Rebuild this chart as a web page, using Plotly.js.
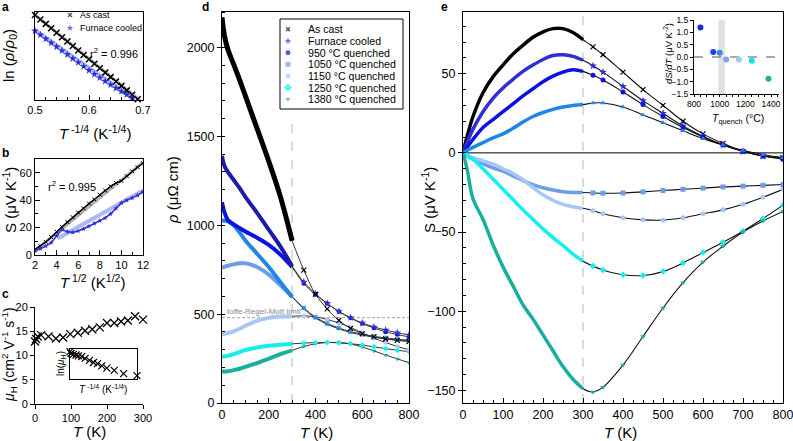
<!DOCTYPE html>
<html><head><meta charset="utf-8">
<script src="https://cdn.plot.ly/plotly-3.0.1.min.js"></script>
<style>html,body{margin:0;padding:0;background:#fff}#chart{width:793px;height:441px}</style>
</head><body><div id="chart"></div>
<script>
// ================= DATA =================
// Panel a: ln(rho/rho0) vs T^-1/4
const aX = [0.50,0.51,0.52,0.53,0.54,0.55,0.56,0.57,0.58,0.59,0.60,0.61,0.62,0.63,0.64,0.65,0.66,0.67,0.68,0.69];
const aAsCast = [0.963,0.909,0.854,0.800,0.745,0.691,0.637,0.582,0.528,0.473,0.419,0.365,0.310,0.256,0.201,0.147,0.093,0.038,-0.016,-0.070];
const aXFurnace = [0.50,0.51,0.52,0.53,0.54,0.55,0.56,0.57,0.58,0.59,0.60,0.61,0.62,0.63,0.64,0.65,0.66,0.67,0.68];
const aFurnace = [0.770,0.720,0.670,0.622,0.573,0.525,0.477,0.428,0.380,0.331,0.283,0.236,0.193,0.150,0.108,0.066,0.025,-0.015,-0.055];
const aFitAsCastX = [0.50,0.695], aFitAsCastY = [0.963,-0.085];
const aFitFurnX = [0.50,0.685], aFitFurnY = [0.775,-0.075];
const aR2 = 'r<sup>2</sup> = 0.996';
const aLegendLabels = ['As cast','Furnace cooled'];

// Panel b: S vs T^1/2
const bX = [2,2.5,3,3.5,4,4.5,5,5.5,6,6.5,7,7.5,8,8.5,9,9.5,10,10.5,11,11.5,12];
const bAsCast = [4,6.5,9.5,13,17,20.5,24,27.5,31,34,37.5,40.5,44,47,50,52.5,54,57.5,61,64,67];
const bFurnace = [3,4.5,6.5,9,14,18.5,17,16.5,17.5,19,21,23,25,27,30,34,38,40,41.5,43.5,46];
const bFitAsCastX = [2,12], bFitAsCastY = [3,67.5];
const bFitFurnX = [4.1,12], bFitFurnY = [12,47];
const bR2 = 'r<sup>2</sup> = 0.995';

// Panel c: Hall mobility vs T
const cT = [0,3,7.5,17,37.5,58,78,98,119,139,159,180,200,220,239,258,278,300];
const cMu = [12.9,13.4,13.9,14.2,13.9,13.5,13.7,14.4,14.7,15.1,15.4,15.8,16.7,16.7,17.0,17.2,18.1,17.4];
// inset c: ln(muH) vs T^-1/4 (relative units)
const cInX = [0.0,0.015,0.05,0.09,0.125,0.175,0.225,0.29,0.35,0.41,0.475,0.55,0.66,0.80,1.0];
const cInY = [0.91,0.85,0.82,0.80,0.77,0.75,0.69,0.62,0.55,0.51,0.44,0.36,0.29,0.18,0.11];

// Panel d: resistivity vs T
const dTLow = [0,10,25,50,75,100,150,200,250,300];
const dTHigh = [300,350,400,450,500,550,600,650,700,750,800];
const dAsCastLow = [2170,2070,1990,1905,1820,1728,1545,1360,1160,912];
const dAsCastHigh = [912,748,612,530,465,420,390,372,360,352,346];
const dFurnLow = [1390,1335,1300,1255,1210,1160,1070,975,880,770];
const dFurnHigh = [770,680,615,560,515,480,450,428,410,395,383];
const d950Low = [1130,1075,1030,1005,985,965,930,890,835,765];
const d950High = [765,672,610,560,515,478,447,422,400,385,372];
const d1000Low = [1027,1026,1022,1000,960,915,840,765,680,597];
const d1000High = [597,530,478,443,417,397,382,370,361,354,348];
const d1050Low = [762,766,772,780,786,786,765,722,662,598];
const d1050High = [598,535,483,448,422,402,387,375,366,359,353];
const d1150Low = [388,390,394,403,418,435,462,479,486,488];
const d1150High = [488,490,485,470,450,425,395,365,340,318,300];
const d1250Low = [261,262,265,275,287,298,312,322,328,333];
const d1250High = [333,337,340,341,339,334,326,316,306,297,289];
const d1380Low = [177,177,179,185,193,203,225,250,275,296];
const d1380High = [296,318,333,340,340,332,315,293,270,248,227];
const ioffeLimit = 480;
const ioffeLabel = 'Ioffe-Regel-Mott limit';
const dLegendLabels = ['As cast','Furnace cooled','950 °C quenched','1050 °C quenched','1150 °C quenched','1250 °C quenched','1380 °C quenched'];

// Panel e: Seebeck vs T
const eT = [0,10,25,50,75,100,125,150,175,200,225,250,275,300,325,350,400,450,500,550,600,650,700,750,800];
const eAsCast = [0,10,23,38,48,55.5,62.5,68,73,76.5,78.5,78.5,76,71.5,67,62,51,40,30,20,12,6,1,-2,-3];
const eFurn = [0,6.5,15,26,34.5,41,46.5,51.5,55.5,59,61.5,62,61,58.5,55,51,42,33,25,17,10.5,5,1,-2,-3.5];
const e950 = [0,3.5,8.5,16,21,26,31,36,40.5,45,48.5,51,52.5,51.5,49,46,38.5,30.5,23,16,10,5,1,-2,-4];
const e1000 = [0,1.5,3.5,6.5,9.5,12,15.5,19.5,23,25.5,27.5,29,30,30.5,31.5,31.5,29,24,19,14,9,5,1.5,-1,-3];
const e1050 = [0,-2,-4,-7,-9.5,-11.5,-14.5,-17.5,-20,-22,-23.5,-24.5,-25,-25,-25.3,-25.5,-25.3,-24.6,-23.8,-23,-22.3,-21.5,-21,-20.5,-20];
const e1150 = [0,-1.5,-3,-5,-7,-10,-13,-17,-22,-26.5,-30,-32.5,-34,-35,-36.5,-38.5,-41,-42.3,-42.5,-41,-38.5,-36,-32.5,-28,-23];
const e1250 = [0,-1.5,-4,-10,-16.5,-23,-29.5,-36,-42,-48,-53.5,-58.5,-64,-68.5,-71.5,-74,-77,-77.5,-75,-69.5,-63,-56.5,-49.5,-41.5,-33];
const e1380 = [0,-10,-29,-42,-58,-72,-84,-96,-105,-115,-125,-135,-143,-149,-151,-148,-134,-116,-98,-82,-69,-59,-50,-43,-37];
// inset e: dS/dT vs quench temperature
const eInTq = [850,950,1000,1050,1150,1250,1380];
const eInDSdT = [1.2,0.2,0.17,-0.1,-0.1,-0.15,-0.88];
const eInBand = [990,1040];

// ================= STYLE / LAYOUT =================
const F = 'Arial, "Liberation Sans", Helvetica, sans-serif';
const W = 793, H = 441;
const DX = (a,b) => [a/W, b/W];
const DY = (t,b) => [1-b/H, 1-t/H];
const C = {asCast:'#000000', furn:'#1c1caa', furnMk:'#2e2ed8', q950:'#0c12e2', q1000:'#1f86e6', q1050:'#6c9ee8', q1150:'#a9c6f4', q1250:'#14eeee', q1380:'#1aae9c'};

function axis(o){
  return Object.assign({showline:true, linecolor:'#000', linewidth:1, mirror:true, ticks:'inside', ticklen:5, tickwidth:1, tickcolor:'#000',
    showgrid:false, zeroline:false, ticklabeloverflow:'allow', tickfont:{family:F, size:12.5, color:'#000'}, fixedrange:true}, o);
}
function minor(dt, o){ return Object.assign({dtick:dt, ticks:'inside', ticklen:3, tickwidth:1, tickcolor:'#000', showgrid:false}, o||{}); }
const small = {family:F, size:11, color:'#000'};

const traces = [];
// ---- panel a ----
traces.push({x:aFitAsCastX, y:aFitAsCastY, xaxis:'x', yaxis:'y', mode:'lines', line:{color:'#b0b0b0', width:3}});
traces.push({x:aFitFurnX, y:aFitFurnY, xaxis:'x', yaxis:'y', mode:'lines', line:{color:'#a9b9f4', width:4}});
traces.push({x:aX, y:aAsCast, xaxis:'x', yaxis:'y', mode:'markers', cliponaxis:false, marker:{symbol:'x-thin', size:6, line:{width:1.5, color:'#000'}}});
traces.push({x:aXFurnace, y:aFurnace, xaxis:'x', yaxis:'y', mode:'markers', cliponaxis:false, marker:{symbol:'star', size:6, color:C.furnMk}});
// legend a (axes 9)
traces.push({x:[70,70], y:[15,28], xaxis:'x9', yaxis:'y9', mode:'markers', cliponaxis:false,
  marker:{symbol:['x','star'], size:[5,7], color:['#000', C.furnMk]}});
// ---- panel b ----
traces.push({x:bFitAsCastX, y:bFitAsCastY, xaxis:'x2', yaxis:'y2', mode:'lines', line:{color:'#b0b0b0', width:3}});
traces.push({x:bFitFurnX, y:bFitFurnY, xaxis:'x2', yaxis:'y2', mode:'lines', line:{color:'#a9b9f4', width:4}});
traces.push({x:bX, y:bAsCast, xaxis:'x2', yaxis:'y2', mode:'lines+markers', line:{color:'#000', width:1.5}, marker:{symbol:'x-thin', size:4, line:{width:1, color:'#000'}}});
traces.push({x:bX, y:bFurnace, xaxis:'x2', yaxis:'y2', mode:'lines+markers', line:{color:C.furnMk, width:1.5}, marker:{symbol:'star', size:4, color:C.furnMk}});
// ---- panel c ----
traces.push({x:cT, y:cMu, xaxis:'x3', yaxis:'y3', mode:'markers', cliponaxis:false, marker:{symbol:'x-thin', size:8, line:{width:1.3, color:'#000'}}});
traces.push({x:cInX, y:cInY, xaxis:'x4', yaxis:'y4', mode:'markers', cliponaxis:false, marker:{symbol:'x-thin', size:7, line:{width:1.2, color:'#000'}}});
// ---- panel d ----
const dSeries = [
  {low:d1380Low, high:d1380High, c:C.q1380, s:'triangle-down'},
  {low:d1250Low, high:d1250High, c:C.q1250, s:'diamond'},
  {low:d1150Low, high:d1150High, c:C.q1150, s:'circle'},
  {low:d1050Low, high:d1050High, c:C.q1050, s:'square'},
  {low:d1000Low, high:d1000High, c:C.q1000, s:'triangle-up'},
  {low:d950Low, high:d950High, c:C.q950, s:'circle'},
  {low:dFurnLow, high:dFurnHigh, c:C.furn, mc:C.furnMk, s:'star'},
  {low:dAsCastLow, high:dAsCastHigh, c:C.asCast, s:'x-thin', w:5}
];
dSeries.forEach(sr => {
  traces.push({x:dTLow, y:sr.low, xaxis:'x5', yaxis:'y5', mode:'lines', line:{color:sr.c, width:sr.w||4, shape:'spline'}});
});
dSeries.forEach(sr => {
  traces.push({x:dTHigh, y:sr.high, xaxis:'x5', yaxis:'y5', mode:'lines', line:{color:'#333', width:1, shape:'spline'}});
  const mk = sr.s==='x-thin' ? {symbol:'x-thin', size:5, line:{width:1.2, color:'#000'}} : {symbol:sr.s, size:sr.s==='star'?6:4.5, color:sr.mc||sr.c};
  traces.push({x:dTHigh.slice(1), y:sr.high.slice(1), xaxis:'x5', yaxis:'y5', mode:'markers', marker:mk});
});
// legend d (axes 8)
const dLegRows = [29.3,41,52.7,64.3,76,87.7,99];
traces.push({x:dLegRows.map(()=>288), y:dLegRows, xaxis:'x8', yaxis:'y8', mode:'markers', cliponaxis:false,
  marker:{symbol:['x','star','circle','square','circle','diamond','triangle-down'], size:[5,7,6,6,6,7,6],
          color:['#000',C.furnMk,C.q950,C.q1050,C.q1150,C.q1250,C.q1380]}});
// ---- panel e ----
const eSeries = [
  {y:eAsCast, c:C.asCast, s:'x-thin'},
  {y:eFurn, c:C.furnMk, s:'star'},
  {y:e950, c:C.q950, s:'circle'},
  {y:e1000, c:C.q1000, s:'triangle-up'},
  {y:e1050, c:C.q1050, s:'square'},
  {y:e1150, c:C.q1150, s:'circle'},
  {y:e1250, c:C.q1250, s:'diamond'},
  {y:e1380, c:C.q1380, s:'triangle-down'}
];
eSeries.forEach(sr => {
  traces.push({x:eT, y:sr.y, xaxis:'x6', yaxis:'y6', mode:'lines', line:{color:'#111', width:1.1, shape:'spline'}});
});
eSeries.forEach(sr => {
  const lowT = eT.filter(t => t<=300), lowY = sr.y.filter((v,i) => eT[i]<=300);
  const hiT = eT.filter(t => t>300), hiY = sr.y.filter((v,i) => eT[i]>300);
  const mk = sr.s==='x-thin' ? {symbol:'x-thin', size:5, line:{width:1.2, color:'#000'}} : {symbol:sr.s, size:sr.s==='star'?6:5, color:sr.c};
  traces.push({x:lowT, y:lowY, xaxis:'x6', yaxis:'y6', mode:'lines', line:{color:sr.c, width:3.5, shape:'spline'}});
  traces.push({x:hiT, y:hiY, xaxis:'x6', yaxis:'y6', mode:'markers', marker:mk});
});
// inset e
traces.push({x:eInTq, y:eInDSdT, xaxis:'x7', yaxis:'y7', mode:'markers', cliponaxis:false,
  marker:{symbol:'circle', size:6, color:['#1a2ad0','#1a3ee8','#2e8ae8','#7aa6ea','#a8c4f0','#12e2f0','#20b0a0']}});

function ann(text, x, y, o){
  return Object.assign({text, x:x/W, y:1-y/H, xref:'paper', yref:'paper', showarrow:false, xanchor:'center', yanchor:'middle',
    font:{family:F, size:15, color:'#000'}}, o||{});
}
const bold = {family:F, size:12, color:'#000', weight:'bold'};
const annotations = [
  ann('<b>a</b>', 5, 7, {font:bold}),
  ann('<b>b</b>', 5, 153, {font:bold}),
  ann('<b>c</b>', 5, 294, {font:bold}),
  ann('<b>d</b>', 205, 7, {font:bold}),
  ann('<b>e</b>', 445, 7, {font:bold}),
  // axis titles
  ann('<i>T</i><sup> -1/4</sup> (K<sup>-1/4</sup>)', 95, 132),
  ann('ln (<i>ρ</i>/<i>ρ</i><sub>0</sub>)', 9, 56, {textangle:-90}),
  ann('<i>T</i><sup> 1/2</sup> (K<sup>1/2</sup>)', 92, 281),
  ann('S (μV K<sup>-1</sup>)', 9, 200, {textangle:-90}),
  ann('<i>T</i> (K)', 89, 431),
  ann('<i>μ</i><sub>H</sub> (cm<sup>2</sup> V<sup>-1</sup> s<sup>-1</sup>)', 9, 355, {textangle:-90, font:{family:F, size:14, color:'#000'}}),
  ann('<i>T</i> (K)', 316, 432),
  ann('<i>ρ</i> (μΩ cm)', 173, 190, {textangle:-90}),
  ann('<i>T</i> (K)', 620, 432),
  ann('S (μV K<sup>-1</sup>)', 428, 200, {textangle:-90}),
  // r2
  ann(aR2, 114, 53, {font:{family:F, size:11, color:'#000'}}),
  ann(bR2, 72, 186, {font:{family:F, size:11, color:'#000'}}),
  // Ioffe
  ann(ioffeLabel, 225, 311, {xanchor:'left', font:{family:F, size:8, color:'#888'}}),
  // inset c labels
  ann('ln(<i>μ</i><sub>H</sub>)', 61, 364, {textangle:-90, font:{family:F, size:10, color:'#000'}}),
  ann('<i>T</i><sup> -1/4</sup> (K<sup>-1/4</sup>)', 103, 389, {font:{family:F, size:10, color:'#000'}}),
  // inset e labels
  ann('<i>dS</i>/<i>dT</i> (μV K<sup>-2</sup>)', 668, 54, {textangle:-90, font:{family:F, size:9.5, color:'#000'}}),
  ann('<i>T</i><sub>quench</sub> (°C)', 738, 119, {font:{family:F, size:10.5, color:'#000'}})
];
// legend texts
aLegendLabels.forEach((t,i) => annotations.push(ann(t, 78, [15,28][i], {xanchor:'left', font:{family:F, size:9, color:'#000'}})));
dLegendLabels.forEach((t,i) => annotations.push(ann(t, 306, dLegRows[i], {xanchor:'left', font:{family:F, size:10.6, color:'#000'}})));

const shapes = [
  {type:'rect', xref:'paper', yref:'paper', x0:280/W, x1:403/W, y0:1-109/H, y1:1-19/H, line:{color:'#000', width:1}, fillcolor:'#fff', layer:'below'},
  {type:'line', xref:'x5', yref:'y5', x0:300, x1:300, y0:0, y1:1620, line:{color:'#cfcfcf', width:1.5, dash:'dash'}, layer:'below'},
  {type:'line', xref:'x5', yref:'y5', x0:0, x1:800, y0:ioffeLimit, y1:ioffeLimit, line:{color:'#a0a0a0', width:1, dash:'3px,2px'}, layer:'below'},
  {type:'line', xref:'x6', yref:'y6', x0:300, x1:300, y0:-158, y1:89, line:{color:'#cfcfcf', width:1.5, dash:'dash'}, layer:'below'},
  {type:'line', xref:'x6', yref:'y6', x0:0, x1:800, y0:0, y1:0, line:{color:'#000', width:1}, layer:'below'},
  {type:'rect', xref:'x7', yref:'y7', x0:eInBand[0], x1:eInBand[1], y0:-1.5, y1:1.5, line:{width:0}, fillcolor:'#e0e0e0', layer:'below'},
  {type:'line', xref:'x7', yref:'y7', x0:800, x1:1462, y0:0, y1:0, line:{color:'#555', width:1, dash:'dash'}, layer:'below'}
];

const hidden = {visible:false, showticklabels:false, ticks:'', fixedrange:true};
const layout = {
  width:W, height:H, margin:{l:0,r:0,t:0,b:0}, paper_bgcolor:'#fff', plot_bgcolor:'rgba(0,0,0,0)', showlegend:false,
  font:{family:F, color:'#000'},
  xaxis: axis({domain:DX(35,143), range:[0.5,0.7], anchor:'y', dtick:0.1, tick0:0.5, tickformat:'.1f', tickfont:small, minor:minor(0.02)}),
  yaxis: axis({domain:DY(12,100), range:[-0.08,1.0], anchor:'x', showticklabels:false, ticks:''}),
  xaxis2: axis({domain:DX(35,143), range:[2,12], anchor:'y2', dtick:2, tickfont:small, minor:minor(1)}),
  yaxis2: axis({domain:DY(159,255), range:[0,70], anchor:'x2', dtick:20, tickfont:small, minor:minor(10)}),
  xaxis3: axis({domain:DX(35,143), range:[0,300], anchor:'y3', dtick:100, mirror:false, ticks:'outside', ticklen:4, tickfont:small}),
  yaxis3: axis({domain:DY(307,404), range:[0,20], anchor:'x3', dtick:5, mirror:false, ticks:'outside', ticklen:4, tickfont:small}),
  xaxis4: axis({domain:DX(70,137), range:[0,1], anchor:'y4', ticks:'', showticklabels:false}),
  yaxis4: axis({domain:DY(349,379), range:[0,1], anchor:'x4', ticks:'', showticklabels:false}),
  xaxis5: axis({domain:DX(222,409), range:[0,800], anchor:'y5', dtick:200, ticks:'inside', ticklen:5, minor:minor(50)}),
  yaxis5: axis({domain:DY(12,403), range:[0,2200], anchor:'x5', dtick:500, ticks:'outside', ticklen:4, minor:minor(100)}),
  xaxis6: axis({domain:DX(463,783), range:[0,800], anchor:'y6', dtick:100, ticks:'inside', ticklen:5, minor:minor(25)}),
  yaxis6: axis({domain:DY(12,403), range:[-158,89], anchor:'x6', dtick:50, ticks:'outside', ticklen:4, minor:minor(10)}),
  xaxis7: axis({domain:DX(694,779), range:[800,1462], anchor:'y7', dtick:200, tick0:800, mirror:false, ticks:'outside', ticklen:2,
    tickfont:{family:F, size:8.5, color:'#000'}, minor:minor(50, {ticks:'outside', ticklen:2})}),
  yaxis7: axis({domain:DY(20,94), range:[-1.5,1.5], anchor:'x7', dtick:0.5, tickformat:'.1f', mirror:false, ticks:'outside', ticklen:3,
    tickfont:{family:F, size:8.5, color:'#000'}}),
  xaxis8: Object.assign({domain:DX(280,403), range:[280,403], anchor:'y8'}, hidden),
  yaxis8: Object.assign({domain:DY(19,109), range:[109,19], anchor:'x8'}, hidden),
  xaxis9: Object.assign({domain:DX(60,143), range:[60,143], anchor:'y9'}, hidden),
  yaxis9: Object.assign({domain:DY(8,36), range:[36,8], anchor:'x9'}, hidden),
  annotations, shapes
};
Plotly.newPlot('chart', traces, layout, {staticPlot:true, displayModeBar:false});
</script>
</body></html>
